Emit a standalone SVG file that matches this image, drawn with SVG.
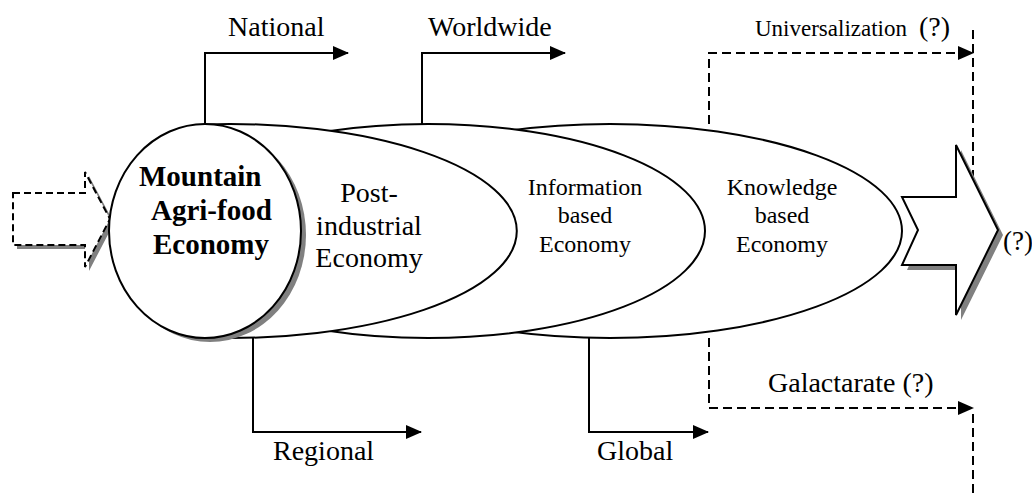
<svg xmlns="http://www.w3.org/2000/svg" width="1032" height="494" viewBox="0 0 1032 494">
<defs>
<marker id="ah" markerUnits="userSpaceOnUse" markerWidth="16" markerHeight="14" refX="15" refY="7" orient="auto">
<path d="M0,0 L16,7 L0,14 Z" fill="#000"/>
</marker>
<style>
.t{font-family:"Liberation Serif","Times New Roman",serif;fill:#000}
.lab{font-size:28px}
.mid{font-size:24px;text-anchor:middle}
.big{font-size:28px;text-anchor:middle}
.bold{font-size:29px;font-weight:bold}
.con{fill:none;stroke:#000;stroke-width:2}
.dash{fill:none;stroke:#000;stroke-width:2;stroke-dasharray:9 5}
.shape{fill:#fff;stroke:#000;stroke-width:2}
.shadow{fill:#808080;stroke:none}
</style>
</defs>
<rect width="1032" height="494" fill="#fff"/>

<g id="connectors">
<path class="con" d="M205,124 V53 H348" marker-end="url(#ah)"/>
<path class="con" d="M422,124 V53 H565" marker-end="url(#ah)"/>
<path class="con" d="M253,338 V432 H421" marker-end="url(#ah)"/>
<path class="con" d="M589,337 V432 H708" marker-end="url(#ah)"/>
<path class="dash" d="M709,124 V53 H973" marker-end="url(#ah)"/>
<path class="dash" d="M709,338 V408 H973" marker-end="url(#ah)"/>
<path class="dash" d="M973,30 V182"/>
<path class="dash" d="M973,414 V494"/>
</g>

<g id="knowledge">
<ellipse class="shape" cx="610" cy="231" rx="292" ry="107"/>
<text class="t mid" x="782" y="195">Knowledge</text>
<text class="t mid" x="782" y="223">based</text>
<text class="t mid" x="782" y="252">Economy</text>
</g>

<g id="information">
<ellipse class="shape" cx="428" cy="231" rx="277" ry="107"/>
<text class="t mid" x="585" y="195">Information</text>
<text class="t mid" x="585" y="223">based</text>
<text class="t mid" x="585" y="252">Economy</text>
</g>

<g id="postindustrial">
<path class="shape" d="M205,124.4 A287,107 0 1 1 205,337.6 Z"/>
<text class="t big" x="369" y="202">Post-</text>
<text class="t big" x="369" y="235">industrial</text>
<text class="t big" x="369" y="267">Economy</text>
</g>

<g id="input-arrow">
<polygon class="shadow" points="17,197 89,197 89,176 114,223 89,271 89,249 17,249"/>
<polygon fill="#fff" stroke="#000" stroke-width="2" stroke-dasharray="7 4" points="13,193 85,193 85,172 110,219 85,267 85,245 13,245"/>
</g>

<g id="mountain">
<ellipse class="shadow" cx="210" cy="235" rx="96" ry="107"/>
<ellipse class="shape" cx="205" cy="231" rx="96" ry="107"/>
<text class="t bold" x="139" y="186">Mountain</text>
<text class="t bold" x="151" y="220">Agri-food</text>
<text class="t bold" x="153" y="254">Economy</text>
</g>

<g id="output-arrow">
<polygon class="shadow" points="907,202 961,202 961,150 1003,235 961,320 961,270 907,270 923,235"/>
<polygon class="shape" points="902,197 956,197 956,145 998,230 956,315 956,265 902,265 918,230"/>
<text class="t" x="1003" y="250" font-size="27">(?)</text>
</g>

<g id="labels">
<text class="t lab" x="228" y="36">National</text>
<text class="t lab" x="428" y="36">Worldwide</text>
<text class="t lab" x="273" y="460">Regional</text>
<text class="t lab" x="597" y="460">Global</text>
<text class="t" x="755" y="36" font-size="23">Universalization<tspan x="919" font-size="28">(?)</tspan></text>
<text class="t lab" x="768" y="392">Galactarate (?)</text>
</g>
</svg>
